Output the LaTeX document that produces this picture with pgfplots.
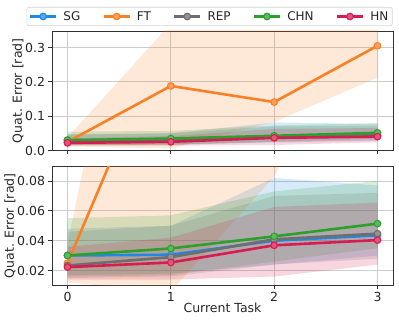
\documentclass[border=0pt]{standalone}
\usepackage{pgfplots}
\pgfplotsset{compat=1.18}
\usepackage{fontspec}
\setmainfont{DejaVu Sans}
\definecolor{cSG}{HTML}{1E88E5}
\definecolor{cFT}{HTML}{F98024}
\definecolor{cREP}{HTML}{6E6E6E}
\definecolor{cCHN}{HTML}{2CA02C}
\definecolor{cHN}{HTML}{D81B50}
\definecolor{gridc}{HTML}{CCCCCC}
\definecolor{spine}{HTML}{333333}

\pgfplotsset{
  common/.style={
    scale only axis, width=341pt, height=119.5pt,
    xmin=-0.15, xmax=3.15,
    xtick={0,1,2,3},
    grid=major,
    major grid style={gridc, line width=0.8pt},
    axis line style={spine, line width=0.8pt},
    tick style={spine, line width=0.8pt},
    tickpos=left, tick align=outside, major tick length=3.5pt,
    tick label style={font=\fontsize{12.5}{14}\selectfont, text=black!85},
    label style={font=\fontsize{12.5}{14}\selectfont, text=black!85},
    /pgf/number format/assume math mode=true,
    scaled y ticks=false,
    ylabel={Quat. Error [rad]},
    clip marker paths=true,
  },
  band/.style={draw=none, fill=#1, fill opacity=0.18, forget plot},
  ln/.style={#1, line width=2.6pt, mark=*, mark size=3.3pt,
    mark options={fill=#1!75!white, draw=#1, line width=1.1pt}},
}

\pgfplotstableread{
x  m     
0  0.0301
1  0.0306
2  0.0400
3  0.0436
}\SG
\pgfplotstableread{
x  m    
0  0.025
1  0.188
2  0.141
3  0.305
}\FT
\pgfplotstableread{
x  m    
0  0.0234
1  0.0290
2  0.0409
3  0.0447
}\REP
\pgfplotstableread{
x  m     
0  0.0301
1  0.0348
2  0.0429
3  0.0514
}\CHN
\pgfplotstableread{
x  m     
0  0.0223
1  0.0254
2  0.0369
3  0.0404
}\HN

\begin{document}
\begin{tikzpicture}
\useasboundingbox (0,0) rectangle (399pt,322pt);

\begin{axis}[common, at={(52pt,291pt)}, anchor=north west,
  ymin=0, ymax=0.348, ytick={0,0.1,0.2,0.3},
  xticklabels={},
  every axis y label/.style={at={(axis description cs:-0.1,0.5)}, rotate=90, anchor=center, font=\fontsize{12.5}{14}\selectfont, text=black!85},
  yticklabel style={/pgf/number format/fixed, /pgf/number format/fixed zerofill, /pgf/number format/precision=1},
  legend columns=5,
  legend style={at={(0.462,1)}, anchor=south, yshift=5pt,
    draw=gray!35, rounded corners=2pt, line width=0.6pt,
    font=\fontsize{12}{14}\selectfont, text=black!85,
    inner xsep=2pt, inner ysep=2pt,
    /tikz/every odd column/.append style={column sep=4pt},
    /tikz/every even column/.append style={column sep=20pt}},
  legend image code/.code={\draw[mark repeat=2,mark phase=2,#1] plot coordinates {(0pt,0pt)(13pt,0pt)(26pt,0pt)};},
]
\addplot[band=cSG] coordinates {(0,0.048)(1,0.050)(2,0.082)(3,0.077)(3,0.030)(2,0.024)(1,0.018)(0,0.017)};
\addplot[band=cFT] coordinates {(0,0.038)(1,0.370)(2,0.420)(3,0.420)(3,0.212)(2,0.083)(1,0.006)(0,0.012)};
\addplot[band=cREP] coordinates {(0,0.046)(1,0.050)(2,0.070)(3,0.072)(3,0.028)(2,0.024)(1,0.016)(0,0.015)};
\addplot[band=cCHN] coordinates {(0,0.055)(1,0.057)(2,0.073)(3,0.080)(3,0.035)(2,0.026)(1,0.017)(0,0.016)};
\addplot[band=cHN] coordinates {(0,0.036)(1,0.042)(2,0.0626)(3,0.0655)(3,0.024)(2,0.016)(1,0.014)(0,0.014)};
\addplot[ln=cSG] table[x=x,y=m]{\SG};
\addlegendentry{SG}
\addplot[ln=cFT] table[x=x,y=m]{\FT};
\addlegendentry{FT}
\addplot[ln=cREP] table[x=x,y=m]{\REP};
\addlegendentry{REP}
\addplot[ln=cCHN] table[x=x,y=m]{\CHN};
\addlegendentry{CHN}
\addplot[ln=cHN] table[x=x,y=m]{\HN};
\addlegendentry{HN}
\end{axis}

\begin{axis}[common, at={(52pt,156pt)}, anchor=north west,
  ymin=0.01, ymax=0.09, ytick={0.02,0.04,0.06,0.08},
  every axis y label/.style={at={(axis description cs:-0.123,0.5)}, rotate=90, anchor=center, font=\fontsize{12.5}{14}\selectfont, text=black!85},
  yticklabel style={/pgf/number format/fixed, /pgf/number format/fixed zerofill, /pgf/number format/precision=2},
  xlabel={Current Task},
  every axis x label/.style={at={(axis description cs:0.5,0)}, anchor=center, yshift=-22pt, font=\fontsize{12.5}{14}\selectfont, text=black!85},
]
\addplot[band=cSG] coordinates {(0,0.048)(1,0.050)(2,0.082)(3,0.077)(3,0.030)(2,0.024)(1,0.018)(0,0.017)};
\addplot[band=cFT] coordinates {(0,0.038)(1,0.370)(2,0.420)(3,0.420)(3,0.212)(2,0.083)(1,0.006)(0,0.012)};
\addplot[band=cREP] coordinates {(0,0.046)(1,0.050)(2,0.070)(3,0.072)(3,0.028)(2,0.024)(1,0.016)(0,0.015)};
\addplot[band=cCHN] coordinates {(0,0.055)(1,0.057)(2,0.073)(3,0.080)(3,0.035)(2,0.026)(1,0.017)(0,0.016)};
\addplot[band=cHN] coordinates {(0,0.036)(1,0.042)(2,0.0626)(3,0.0655)(3,0.024)(2,0.016)(1,0.014)(0,0.014)};
\addplot[ln=cSG] table[x=x,y=m]{\SG};
\addplot[ln=cFT] table[x=x,y=m]{\FT};
\addplot[ln=cREP] table[x=x,y=m]{\REP};
\addplot[ln=cCHN] table[x=x,y=m]{\CHN};
\addplot[ln=cHN] table[x=x,y=m]{\HN};
\end{axis}
\end{tikzpicture}
\end{document}
